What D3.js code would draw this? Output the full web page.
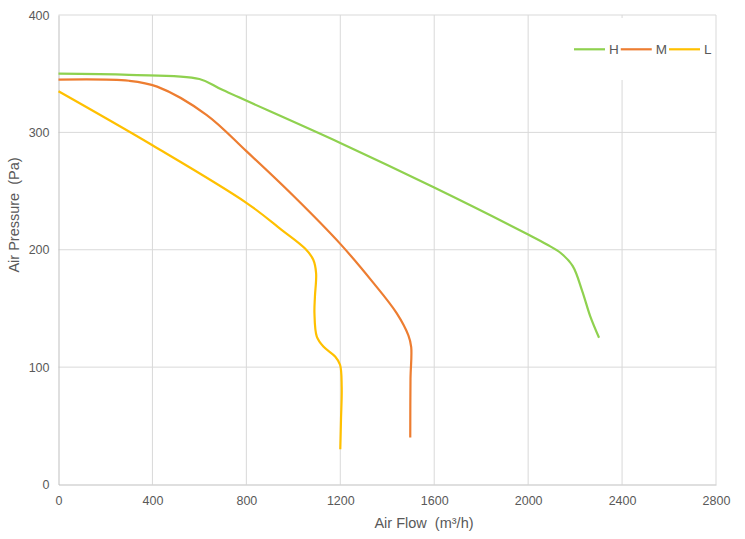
<!DOCTYPE html>
<html>
<head>
<meta charset="utf-8">
<script src="https://cdn.jsdelivr.net/npm/d3@7"></script>
<style>
  html, body { margin: 0; padding: 0; background: #fff; }
  svg { display: block; font-family: "Liberation Sans", Arial, sans-serif; }
  text.title { white-space: pre; }
</style>
</head>
<body>
<svg id="chart" width="745" height="539"></svg>
<script>
// ---- data ----
const seriesNames = ["H", "M", "L"];
const seriesColors = ["#8fd14f", "#ed7d31", "#ffc000"];
const flowH = [0, 300, 600, 700, 1200, 1600, 2000, 2080, 2140, 2190, 2230, 2265, 2302];
const pressH = [350, 349, 345.5, 336, 291, 253, 213, 204.5, 197, 186, 165, 143, 125];
const flowM = [0, 300, 420, 630, 800, 1000, 1200, 1340, 1440, 1490, 1502, 1499, 1498];
const pressM = [345, 344, 339, 315, 284, 246, 205, 172, 146, 127, 117, 90, 40];
const flowL = [0, 400, 800, 950, 1050, 1085, 1097, 1092, 1090, 1100, 1128, 1178, 1199, 1206, 1203, 1200];
const pressL = [335, 289, 240, 217, 201, 191.5, 180, 160, 146, 126, 117.5, 109, 102, 83, 55, 30];
const xTicks = [0, 400, 800, 1200, 1600, 2000, 2400, 2800];
const yTicks = [0, 100, 200, 300, 400];
const xTitle = "Air Flow  (m³/h)";
const yTitle = "Air Pressure  (Pa)";

(function () {
const series = [
  { name: seriesNames[0], color: seriesColors[0], pts: flowH.map((f, i) => [f, pressH[i]]) },
  { name: seriesNames[1], color: seriesColors[1], pts: flowM.map((f, i) => [f, pressM[i]]) },
  { name: seriesNames[2], color: seriesColors[2], pts: flowL.map((f, i) => [f, pressL[i]]) }
];

const svg = d3.select("#chart");
const pLeft = 58.5, pRight = 716, pTop = 15, pBottom = 484.5;
const x = d3.scaleLinear().domain([0, 2800]).range([pLeft, pRight]);
const y = d3.scaleLinear().domain([0, 400]).range([pBottom, pTop]);

// gridlines
const grid = svg.append("g");
grid.selectAll("line.v").data(xTicks.slice(1)).enter().append("line")
  .attr("x1", d => x(d)).attr("x2", d => x(d))
  .attr("y1", pTop).attr("y2", pBottom)
  .attr("stroke", "#d9d9d9").attr("stroke-width", 1);
grid.selectAll("line.h").data(yTicks.slice(1)).enter().append("line")
  .attr("x1", pLeft).attr("x2", pRight)
  .attr("y1", d => y(d)).attr("y2", d => y(d))
  .attr("stroke", "#d9d9d9").attr("stroke-width", 1);

// axes
const xAxis = d3.axisBottom(x).tickValues(xTicks).tickFormat(d3.format("d")).tickSize(0).tickPadding(12);
const gx = svg.append("g").attr("transform", `translate(0,${pBottom})`).call(xAxis);
gx.select(".domain").attr("stroke", "#bfbfbf");
gx.selectAll("text").attr("fill", "#595959").attr("font-size", "12.5px")
  .attr("font-family", "Liberation Sans, Arial, sans-serif");

const yAxis = d3.axisLeft(y).tickValues(yTicks).tickFormat(d3.format("d")).tickSize(0).tickPadding(9);
const gy = svg.append("g").attr("transform", `translate(${pLeft},0)`).call(yAxis);
gy.select(".domain").attr("stroke", "#bfbfbf");
gy.selectAll("text").attr("fill", "#595959").attr("font-size", "12.5px")
  .attr("font-family", "Liberation Sans, Arial, sans-serif");

// axis titles
svg.append("text").attr("class", "title").attr("x", 424).attr("y", 527.5).attr("text-anchor", "middle")
  .attr("fill", "#595959").attr("font-size", "14.5px").text(xTitle);
svg.append("text").attr("class", "title").attr("transform", "translate(19,215) rotate(-90)")
  .attr("text-anchor", "middle").attr("fill", "#595959").attr("font-size", "14.5px").text(yTitle);

// lines
const line = d3.line().x(d => x(d[0])).y(d => y(d[1])).curve(d3.curveCatmullRom.alpha(0.5));
svg.append("g").selectAll("path").data(series).enter().append("path")
  .attr("d", d => line(d.pts))
  .attr("fill", "none").attr("stroke", d => d.color).attr("stroke-width", 2.2)
  .attr("stroke-linejoin", "round").attr("stroke-linecap", "butt");

// legend
const lg = svg.append("g");
lg.append("rect").attr("x", 566).attr("y", 18).attr("width", 146).attr("height", 62).attr("fill", "#fff");
let lx = 574;
const ly = 49.3;
series.forEach(s => {
  lg.append("line").attr("x1", lx).attr("x2", lx + 31).attr("y1", ly).attr("y2", ly)
    .attr("stroke", s.color).attr("stroke-width", 2.2);
  const t = lg.append("text").attr("x", lx + 35).attr("y", ly).attr("dy", "0.35em")
    .attr("fill", "#595959").attr("font-size", "13.5px").text(s.name);
  const w = t.node().getComputedTextLength();
  lx = lx + 35 + w + 2;
});
})();
</script>
</body>
</html>
